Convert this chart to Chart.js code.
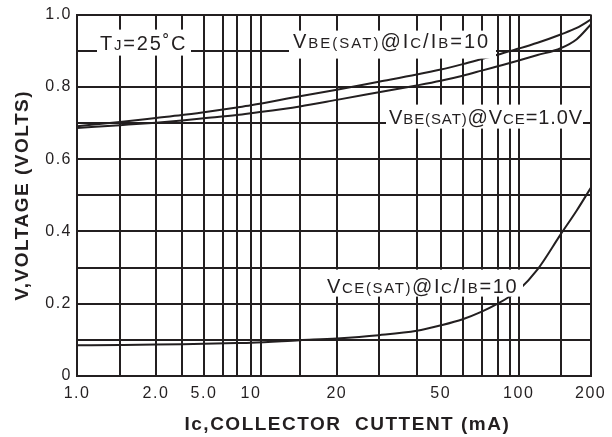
<!DOCTYPE html>
<html>
<head>
<meta charset="utf-8">
<script src="https://cdn.jsdelivr.net/npm/chart.js@4.4.1/dist/chart.umd.min.js"></script>
<style>
  html, body { margin: 0; padding: 0; background: #fff; }
  #wrap { width: 612px; height: 437px; }
</style>
</head>
<body>
<div id="wrap"><canvas id="chart"></canvas></div>
<script>
'use strict';

// collector current (mA) and the three curves (volts)
const currentMa = [1, 1.5, 2, 3, 5, 8, 10, 15, 20, 30, 40, 50, 60, 70, 80, 90, 100, 120, 150, 175, 200];
const vbeSatIcIb = [0.691, 0.703, 0.714, 0.722, 0.730, 0.743, 0.749, 0.774, 0.792, 0.814, 0.834, 0.848, 0.863, 0.877, 0.889, 0.899, 0.906, 0.922, 0.945, 0.963, 0.986];
const vbeSatVce = [0.686, 0.694, 0.701, 0.707, 0.713, 0.722, 0.727, 0.746, 0.764, 0.785, 0.804, 0.817, 0.831, 0.845, 0.857, 0.866, 0.873, 0.888, 0.907, 0.932, 0.972];
const vceSat = [0.085, 0.086, 0.087, 0.088, 0.089, 0.091, 0.092, 0.099, 0.104, 0.113, 0.125, 0.140, 0.157, 0.178, 0.200, 0.220, 0.238, 0.295, 0.392, 0.458, 0.520];

// x tick labels
const xLabels = {1: '1.0', 2: '2.0', 5: '5.0', 10: '10', 20: '20', 50: '50', 100: '100', 200: '200'};

// the graph paper: grid values and how far along the axis each one sits
const xGrid = [1, 1.5, 2, 3, 5, 6.5, 8, 10, 11, 15, 20, 30, 40, 50, 60, 70, 80, 90, 100, 150, 200];
const xGridOffsets = [0, 43, 79, 105, 127, 146, 160, 174, 184, 223, 260, 302, 340, 364, 386, 405, 421, 433, 442, 484, 514];

const ink = '#231f20';
const fontFamily = '"Liberation Sans", Arial, sans-serif';

function paperFrac(v) {
    const last = xGridOffsets[xGridOffsets.length - 1];
    if (v <= xGrid[0]) return 0;
    for (let i = 0; i < xGrid.length - 1; i++) {
        if (v <= xGrid[i + 1]) {
            const t = (Math.log10(v) - Math.log10(xGrid[i])) / (Math.log10(xGrid[i + 1]) - Math.log10(xGrid[i]));
            return (xGridOffsets[i] + t * (xGridOffsets[i + 1] - xGridOffsets[i])) / last;
        }
    }
    return 1;
}

function paperValue(f) {
    const last = xGridOffsets[xGridOffsets.length - 1];
    const o = f * last;
    for (let i = 0; i < xGrid.length - 1; i++) {
        if (o <= xGridOffsets[i + 1]) {
            const t = (o - xGridOffsets[i]) / (xGridOffsets[i + 1] - xGridOffsets[i]);
            return Math.pow(10, Math.log10(xGrid[i]) + t * (Math.log10(xGrid[i + 1]) - Math.log10(xGrid[i])));
        }
    }
    return xGrid[xGrid.length - 1];
}

const LogScale = Chart.LogarithmicScale || Chart.registry.getScale('logarithmic');

class PaperLogScale extends LogScale {
    getPixelForValue(value) {
        return this.getPixelForDecimal(paperFrac(value));
    }
    getValueForPixel(pixel) {
        return paperValue(this.getDecimalForPixel(pixel));
    }
}
PaperLogScale.id = 'paperLog';
PaperLogScale.defaults = LogScale.defaults;
Chart.register(PaperLogScale);

// boxed curve labels, placed relative to the plot area
const notes = [
    {x: 23, y: 35, box: [20, 15, 114, 41], spacing: '1.8px',
        parts: [['T', 1], ['J', 0], ['=25˚C', 1]]},
    {x: 216, y: 33, box: [212, 16, 419, 44], spacing: '2px',
        parts: [['V', 1], ['BE(SAT)', 0], ['@', 1], ['I', 1], ['C', 0], ['/', 1], ['I', 1], ['B', 0], ['=10', 1]]},
    {x: 312, y: 109, box: [309, 90, 506, 114], spacing: '0.9px',
        parts: [['V', 1], ['BE(SAT)', 0], ['@', 1], ['V', 1], ['CE', 0], ['=1.0V', 1]]},
    {x: 250, y: 278, box: [243, 255, 446, 282], spacing: '1.6px',
        parts: [['V', 1], ['CE(SAT)', 0], ['@', 1], ['I', 1], ['C', 0], ['/', 1], ['I', 1], ['B', 0], ['=10', 1]]}
];

const spacedText = {
    id: 'spacedText',
    beforeDraw(chart) {
        if ('letterSpacing' in chart.ctx) chart.ctx.letterSpacing = '1.5px';
    },
    afterDraw(chart) {
        if ('letterSpacing' in chart.ctx) chart.ctx.letterSpacing = '0px';
    }
};

const noteBoxes = {
    id: 'noteBoxes',
    afterDatasetsDraw(chart) {
        const {ctx, chartArea: a} = chart;
        ctx.save();
        for (const n of notes) {
            ctx.fillStyle = '#fff';
            ctx.fillRect(a.left + n.box[0], a.top + n.box[1], n.box[2] - n.box[0], n.box[3] - n.box[1]);
            let x = a.left + n.x;
            const y = a.top + n.y;
            ctx.fillStyle = ink;
            ctx.textAlign = 'left';
            ctx.textBaseline = 'alphabetic';
            if ('letterSpacing' in ctx) ctx.letterSpacing = n.spacing;
            for (const [text, big] of n.parts) {
                ctx.font = (big ? '20px ' : '15px ') + fontFamily;
                ctx.fillText(text, x, y);
                x += ctx.measureText(text).width;
            }
        }
        ctx.restore();
    }
};

function series(values) {
    return currentMa.map((x, i) => ({x: x, y: values[i]}));
}

function curve(values) {
    return {
        data: series(values),
        borderColor: ink,
        borderWidth: 2,
        pointRadius: 0,
        fill: false,
        cubicInterpolationMode: 'monotone'
    };
}

const ctx = document.getElementById('chart').getContext('2d');

new Chart(ctx, {
    type: 'line',
    data: {
        datasets: [curve(vbeSatIcIb), curve(vbeSatVce), curve(vceSat)]
    },
    options: {
        responsive: true,
        maintainAspectRatio: false,
        animation: false,
        layout: {padding: {top: 13, right: 21, left: 0, bottom: 0}},
        plugins: {
            legend: {display: false},
            tooltip: {enabled: false}
        },
        scales: {
            x: {
                type: 'paperLog',
                min: 1,
                max: 200,
                afterBuildTicks: (axis) => {
                    axis.ticks = xGrid.map(v => ({value: v}));
                },
                afterFit: (axis) => {
                    axis.height = 61;
                },
                grid: {color: ink, lineWidth: 2, drawTicks: false},
                border: {color: ink, width: 2},
                ticks: {
                    autoSkip: false,
                    maxRotation: 0,
                    padding: 8,
                    color: ink,
                    font: {family: fontFamily, size: 16},
                    callback: (v) => xLabels[v] || ''
                },
                title: {
                    display: true,
                    text: '    Ic,COLLECTOR  CUTTENT (mA)',
                    color: ink,
                    font: {family: fontFamily, size: 19, weight: 'bold'},
                    padding: {top: 0, bottom: 1}
                }
            },
            y: {
                min: 0,
                max: 1,
                afterFit: (axis) => {
                    axis.width = 77;
                },
                grid: {color: ink, lineWidth: 2, drawTicks: false},
                border: {color: ink, width: 2},
                ticks: {
                    stepSize: 0.1,
                    padding: 5,
                    color: ink,
                    font: {family: fontFamily, size: 16},
                    callback: (v) => {
                        const k = Math.round(v * 10);
                        if (k % 2 !== 0) return '';
                        return k === 0 ? '0' : (k / 10).toFixed(1);
                    }
                },
                title: {
                    display: true,
                    text: 'V,VOLTAGE (VOLTS)',
                    color: ink,
                    font: {family: fontFamily, size: 19, weight: 'bold'},
                    padding: {top: 11, bottom: 0}
                }
            }
        }
    },
    plugins: [spacedText, noteBoxes]
});
</script>
</body>
</html>
